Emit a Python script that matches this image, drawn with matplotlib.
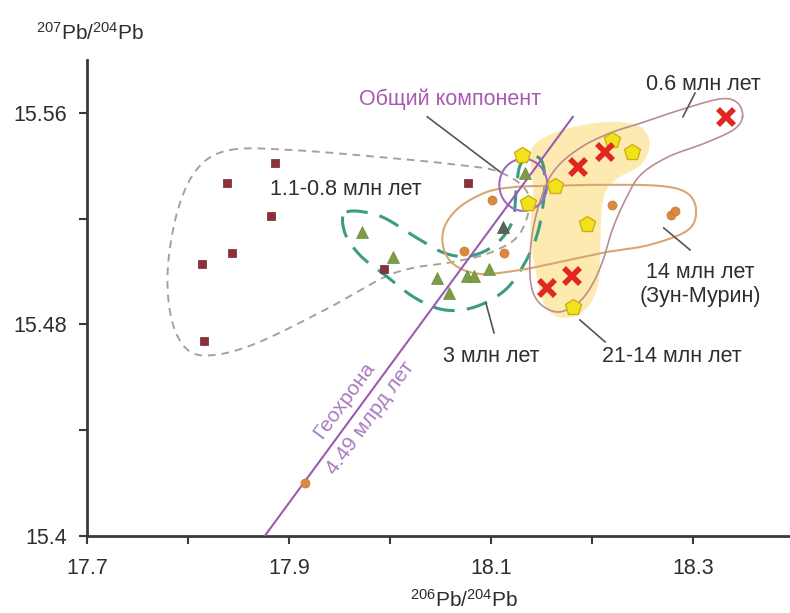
import numpy as np
import matplotlib
matplotlib.use("Agg")
import matplotlib.pyplot as plt
from matplotlib.patches import Ellipse, Polygon

plt.rcParams['font.family'] = ['Liberation Sans', 'DejaVu Sans']
plt.rcParams['mathtext.fontset'] = 'custom'
plt.rcParams['mathtext.rm'] = 'Liberation Sans'
plt.rcParams['mathtext.it'] = 'Liberation Sans'

# ---- samples: 206Pb/204Pb (x) and 207Pb/204Pb (y) ----
ma_1_1_0_8_x = [17.886, 17.839, 17.882, 17.844, 17.814, 17.816, 17.994, 18.077]
ma_1_1_0_8_y = [15.5411, 15.5335, 15.5210, 15.5070, 15.5029, 15.4738, 15.5010, 15.5335]

ma_3_x = [17.972, 18.003, 18.047, 18.058, 18.076, 18.083, 18.098, 18.134]
ma_3_y = [15.5150, 15.5055, 15.4976, 15.4919, 15.4983, 15.4983, 15.5010, 15.5373]

ma_3_dark_x = [18.112]
ma_3_dark_y = [15.5169]

ma_14_x = [18.101, 18.073, 18.113, 18.220, 18.278, 18.282, 17.916]
ma_14_y = [15.5271, 15.5078, 15.5070, 15.5252, 15.5214, 15.5229, 15.4200]

ma_21_14_x = [18.131, 18.163, 18.137, 18.220, 18.240, 18.195, 18.181]
ma_21_14_y = [15.5441, 15.5324, 15.5259, 15.5498, 15.5452, 15.5180, 15.4866]

ma_0_6_x = [18.186, 18.213, 18.333, 18.155, 18.180]
ma_0_6_y = [15.5396, 15.5452, 15.5585, 15.4938, 15.4983]

# geochron 4.49 Ga
geochron_x = [17.876, 18.181]
geochron_y = [15.400, 15.5585]

# ---- group outlines ----
env_1_1_x = [17.842, 17.901, 17.990, 18.059, 18.108, 18.137, 18.129, 18.101, 18.062,
             18.023, 17.993, 17.941, 17.871, 17.827, 17.800, 17.784, 17.780, 17.790, 17.810]
env_1_1_y = [15.5460, 15.5460, 15.5433, 15.5407, 15.5377, 15.5290, 15.5146, 15.5074, 15.5036,
             15.5014, 15.4976, 15.4866, 15.4734, 15.4685, 15.4703, 15.4817, 15.5006, 15.5233, 15.5392]

env_3_x = [17.957, 17.990, 18.025, 18.054, 18.079, 18.104, 18.121, 18.125, 18.129, 18.141,
           18.151, 18.153, 18.147, 18.134, 18.114, 18.084, 18.054, 18.025, 17.995, 17.970, 17.955]
env_3_y = [15.5225, 15.5210, 15.5131, 15.5070, 15.5059, 15.5101, 15.5188, 15.5309, 15.5403, 15.5437,
           15.5411, 15.5309, 15.5157, 15.5036, 15.4930, 15.4866, 15.4855, 15.4900, 15.4987, 15.5063, 15.5150]

env_14_x = [18.155, 18.208, 18.267, 18.294, 18.303, 18.295, 18.257, 18.215, 18.168,
            18.129, 18.089, 18.064, 18.053, 18.054, 18.069, 18.096, 18.124]
env_14_y = [15.5324, 15.5328, 15.5324, 15.5297, 15.5233, 15.5157, 15.5101, 15.5074, 15.5036,
            15.5006, 15.4991, 15.5025, 15.5089, 15.5169, 15.5244, 15.5301, 15.5320]

env_21_14_x = [18.149, 18.178, 18.218, 18.248, 18.257, 18.248, 18.223, 18.211, 18.208,
               18.206, 18.193, 18.170, 18.153, 18.144, 18.139, 18.142, 18.139]
env_21_14_y = [15.5498, 15.5543, 15.5566, 15.5547, 15.5479, 15.5403, 15.5346, 15.5271, 15.5082,
               15.4949, 15.4855, 15.4825, 15.4874, 15.5006, 15.5157, 15.5309, 15.5441]

env_0_6_x = [18.349, 18.344, 18.327, 18.287, 18.252, 18.218, 18.188, 18.163, 18.149, 18.140, 18.139,
             18.147, 18.166, 18.186, 18.200, 18.211, 18.220, 18.233, 18.248, 18.275, 18.312, 18.340]
env_0_6_y = [15.5585, 15.5638, 15.5653, 15.5611, 15.5566, 15.5524, 15.5467, 15.5384, 15.5271, 15.5120, 15.4968,
             15.4885, 15.4847, 15.4881, 15.4949, 15.5044, 15.5157, 15.5271, 15.5365, 15.5433, 15.5486, 15.5536]

common_center = (18.132, 15.5328)
common_size = (0.0475, 0.0197)


def smooth_closed(xs, ys, n=24):
    """Closed Catmull-Rom curve through the given vertices."""
    p = np.column_stack([xs, ys]).astype(float)
    m = len(p)
    t = np.linspace(0, 1, n, endpoint=False)[:, None]
    segs = []
    for i in range(m):
        p0, p1, p2, p3 = p[i - 1], p[i], p[(i + 1) % m], p[(i + 2) % m]
        segs.append(0.5 * (2 * p1 + (-p0 + p2) * t
                           + (2 * p0 - 5 * p1 + 4 * p2 - p3) * t ** 2
                           + (-p0 + 3 * p1 - 3 * p2 + p3) * t ** 3))
    c = np.vstack(segs)
    return np.vstack([c, c[:1]])


fig = plt.figure(figsize=(7.9, 6.13), dpi=100)
ax = fig.add_axes([0.110, 0.1256, 0.890, 0.7765])
ax.set_xlim(17.7, 18.396)
ax.set_ylim(15.4, 15.58)

# shaded field of the 21-14 Ma group
c = smooth_closed(env_21_14_x, env_21_14_y)
ax.add_patch(Polygon(c, closed=True, facecolor='#fdeab0', edgecolor='none', zorder=1))

c = smooth_closed(env_1_1_x, env_1_1_y)
ax.plot(c[:, 0], c[:, 1], color='#aaa195', lw=1.4, dashes=(4, 3), zorder=2)

c = smooth_closed(env_3_x, env_3_y)
ax.plot(c[:, 0], c[:, 1], color='#3a9c82', lw=2.2, dashes=(7, 4), zorder=2)

c = smooth_closed(env_14_x, env_14_y)
ax.plot(c[:, 0], c[:, 1], color='#d8a770', lw=1.5, zorder=2)

c = smooth_closed(env_0_6_x, env_0_6_y)
ax.plot(c[:, 0], c[:, 1], color='#b98e8e', lw=1.2, zorder=2)

ax.add_patch(Ellipse(common_center, common_size[0], common_size[1], fill=False,
                     edgecolor='#9d6cc2', lw=1.5, zorder=2))

# geochron
ax.plot(geochron_x, geochron_y, color='#9a5cb0', lw=1.5, zorder=3)

# samples
ax.plot(ma_1_1_0_8_x, ma_1_1_0_8_y, 's', color='#8e3039', ms=5.8, mec='#6e2530', mew=0.5, zorder=5)
ax.plot(ma_3_x, ma_3_y, '^', color='#7d9c48', ms=8, mec='#6a8a3c', mew=0.5, zorder=5)
ax.plot(ma_3_dark_x, ma_3_dark_y, '^', color='#5a6455', ms=8, mec='#4a5448', mew=0.5, zorder=5)
ax.plot(ma_14_x, ma_14_y, 'o', color='#d98a3e', ms=6.5, mec='#c8782e', mew=0.5, zorder=5)
ax.plot(ma_21_14_x, ma_21_14_y, 'p', color='#f2e21a', ms=12, mec='#d0b010', mew=1, zorder=6)
ax.plot(ma_0_6_x, ma_0_6_y, 'x', color='#e02620', ms=12, mew=4, zorder=7)

# labels and leader lines
txt = dict(fontsize=15.5, color='#2e2e2e', zorder=8)
lead = dict(color='#555555', lw=1.2, zorder=4)

ax.text(18.059, 15.565, 'Общий компонент', ha='center', va='center',
        fontsize=15.5, color='#a85ab0', zorder=8)
ax.plot([18.037, 18.109], [15.5585, 15.5377], **lead)

ax.text(18.310, 15.5706, '0.6 млн лет', ha='center', va='center', **txt)
ax.plot([18.302, 18.290], [15.5675, 15.5585], **lead)

ax.text(17.881, 15.5309, '1.1-0.8 млн лет', ha='left', va='center', **txt)

ax.text(18.100, 15.4677, '3 млн лет', ha='center', va='center', **txt)
ax.plot([18.095, 18.103], [15.4881, 15.4768], **lead)

ax.text(18.307, 15.4998, '14 млн лет', ha='center', va='center', **txt)
ax.text(18.307, 15.4904, '(Зун-Мурин)', ha='center', va='center', **txt)
ax.plot([18.271, 18.297], [15.5165, 15.5082], **lead)

ax.text(18.210, 15.4677, '21-14 млн лет', ha='left', va='center', **txt)
ax.plot([18.188, 18.213], [15.4817, 15.4734], **lead)

# geochron caption, rotated along the line
p0 = ax.transData.transform((geochron_x[0], geochron_y[0]))
p1 = ax.transData.transform((geochron_x[1], geochron_y[1]))
ang = np.degrees(np.arctan2(p1[1] - p0[1], p1[0] - p0[0]))
ax.text(17.955, 15.4512, 'Геохрона', rotation=ang, rotation_mode='anchor',
        ha='center', va='center', fontsize=15, color='#a77cbf', zorder=8)
ax.text(17.981, 15.4448, '4.49 млрд лет', rotation=ang, rotation_mode='anchor',
        ha='center', va='center', fontsize=15, color='#a77cbf', zorder=8)

# axes styling
for s in ['top', 'right']:
    ax.spines[s].set_visible(False)
for s in ['left', 'bottom']:
    ax.spines[s].set_color('#3a3a3a')
    ax.spines[s].set_linewidth(2)

ax.set_xticks([17.7, 17.9, 18.1, 18.3])
ax.set_xticks([17.8, 18.0, 18.2], minor=True)
ax.set_xticklabels(['17.7', '17.9', '18.1', '18.3'])
ax.set_yticks([15.4, 15.48, 15.56])
ax.set_yticks([15.44, 15.52], minor=True)
ax.set_yticklabels(['15.4', '15.48', '15.56'])
ax.tick_params(axis='both', which='both', direction='out', length=6, width=1.5,
               color='#3a3a3a', labelsize=15.5, labelcolor='#2e2e2e')
ax.tick_params(axis='x', which='both', pad=10)
ax.tick_params(axis='y', which='both', pad=8)

fig.text(0.114, 0.946, r'$^{207}$Pb/$^{204}$Pb', ha='center', va='center',
         fontsize=15, color='#2e2e2e')
fig.text(0.588, 0.021, r'$^{206}$Pb/$^{204}$Pb', ha='center', va='center',
         fontsize=15, color='#2e2e2e')

fig.savefig('out.png', dpi=100)
